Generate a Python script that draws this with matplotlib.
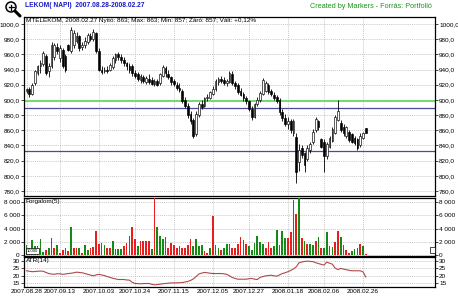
import matplotlib
matplotlib.use("Agg")
import matplotlib.pyplot as plt
import numpy as np
import pandas as pd
from matplotlib.patches import Circle, Rectangle
from matplotlib.ticker import FuncFormatter

# trading days (BSE), 2007.08.28 - 2008.02.27
holidays = ["2007-10-22", "2007-10-23", "2007-11-01", "2007-11-02", "2007-12-24",
            "2007-12-25", "2007-12-26", "2007-12-31", "2008-01-01"]
days = pd.bdate_range("2007-08-28", "2008-02-27", freq="C", holidays=holidays)
tick_dates = ["2007.08.28", "2007.09.13", "2007.10.03", "2007.10.24", "2007.11.15",
              "2007.12.05", "2007.12.27", "2008.01.18", "2008.02.06", "2008.02.26"]

opens = [912, 914, 908, 922, 936, 944, 947, 958, 938, 944, 956, 970, 955, 966, 958, 972, 964, 972, 978, 984,
         970, 972, 976, 984, 980, 988, 965, 940, 938, 940, 940, 943, 952, 960, 956, 952, 948, 944, 944, 936,
         934, 926, 930, 923, 928, 926, 921, 925, 922, 932, 942, 934, 930, 925, 920, 916, 912, 900, 892, 882,
         874, 855, 880, 894, 892, 902, 903, 908, 914, 924, 928, 926, 922, 924, 934, 922, 920, 912, 908, 902,
         898, 888, 878, 894, 900, 908, 912, 920, 912, 907, 904, 900, 884, 876, 868, 872, 856, 851, 818, 836,
         830, 822, 834, 844, 860, 872, 848, 845, 826, 838, 846, 857, 874, 870, 864, 852, 858, 855, 850, 848,
         840, 850, 863]
highs = [916, 917, 922, 940, 946, 952, 965, 960, 948, 976, 975, 975, 972, 968, 960, 974, 996, 992, 990, 986,
         976, 983, 988, 988, 993, 990, 968, 944, 943, 944, 949, 958, 962, 963, 960, 956, 950, 949, 947, 940,
         937, 934, 933, 931, 934, 930, 928, 927, 936, 946, 945, 940, 932, 928, 924, 922, 914, 904, 896, 886,
         876, 885, 897, 900, 904, 908, 912, 918, 927, 930, 931, 930, 928, 938, 938, 925, 922, 916, 911, 905,
         900, 892, 896, 904, 912, 929, 925, 922, 915, 910, 907, 902, 888, 882, 878, 875, 875, 856, 842, 840,
         832, 840, 845, 862, 878, 874, 850, 848, 844, 852, 864, 880, 900, 874, 868, 866, 860, 857, 852, 850,
         856, 858, 863]
lows = [909, 904, 906, 920, 933, 936, 945, 933, 930, 942, 952, 960, 950, 942, 937, 964, 962, 968, 975, 964,
        966, 968, 974, 978, 978, 962, 938, 934, 935, 936, 938, 941, 949, 953, 948, 944, 940, 936, 932, 929,
        925, 922, 922, 921, 921, 919, 918, 918, 920, 930, 930, 927, 920, 918, 913, 910, 896, 889, 876, 868,
        850, 852, 878, 888, 890, 899, 901, 906, 912, 920, 922, 920, 918, 922, 920, 915, 908, 905, 899, 895,
        886, 874, 876, 892, 897, 906, 910, 908, 905, 900, 896, 880, 872, 865, 862, 856, 853, 791, 806, 824,
        805, 820, 830, 842, 858, 860, 836, 805, 822, 836, 844, 855, 872, 858, 852, 850, 845, 843, 840, 834,
        838, 848, 857]
closes = [914, 908, 920, 938, 944, 948, 962, 936, 944, 972, 972, 964, 968, 945, 940, 966, 992, 988, 984, 968,
          972, 978, 986, 980, 990, 965, 940, 937, 940, 938, 946, 955, 960, 956, 952, 948, 944, 940, 935, 932,
          928, 931, 925, 929, 924, 921, 925, 920, 934, 943, 935, 930, 924, 921, 916, 913, 898, 892, 880, 872,
          853, 882, 894, 891, 902, 904, 910, 915, 925, 928, 925, 922, 925, 935, 922, 918, 911, 907, 902, 898,
          888, 877, 894, 900, 909, 926, 922, 911, 908, 903, 899, 884, 876, 868, 872, 860, 872, 805, 834, 828,
          814, 836, 842, 858, 875, 864, 838, 826, 842, 850, 862, 877, 886, 861, 856, 864, 847, 845, 843, 837,
          852, 856, 857]

volume = [1550, 1100, 2270, 1400, 1300, 2400, 500, 800, 1000, 2600, 1000, 1550, 250, 800, 1100, 600, 4200, 1000,
          1000, 1000, 350, 1500, 700, 1000, 1200, 3650, 1650, 1800, 1500, 1000, 1000, 2150, 900, 900, 900, 1400,
          1750, 2850, 4200, 2400, 1350, 2050, 2050, 2050, 2050, 900, 8800, 4200, 2850, 2400, 2700, 1000, 1750,
          1450, 1000, 1400, 1100, 1000, 1500, 2400, 1400, 2400, 1300, 1550, 550, 350, 1000, 5900, 1550, 1000,
          700, 1000, 1700, 1600, 1000, 1000, 1650, 2700, 2300, 1600, 1400, 700, 1800, 2900, 2000, 1700, 1000,
          2000, 1000, 1300, 3800, 1500, 3700, 2500, 2500, 3500, 8300, 6200, 8800, 2600, 2100, 1600, 1600, 1500,
          2100, 2700, 1000, 1100, 3500, 1300, 1200, 2000, 3700, 2700, 1500, 700, 300, 600, 900, 1100, 1700,
          1300, 200]
vol_up = [1, 0, 1, 1, 1, 1, 1, 0, 1, 1, 0, 1, 0, 0, 1, 0, 1, 0, 0, 1, 0, 1, 1, 0, 0, 0, 0, 0, 1, 0,
          0, 1, 1, 1, 1, 0, 0, 1, 0, 0, 1, 0, 0, 0, 0, 1, 0, 1, 1, 1, 0, 0, 0, 0, 0, 0, 0, 0, 0, 0,
          1, 1, 1, 1, 0, 0, 1, 0, 1, 1, 0, 1, 1, 1, 0, 0, 0, 0, 0, 0, 1, 1, 1, 1, 1, 1, 0, 0, 0, 1,
          1, 0, 1, 1, 0, 0, 1, 0, 1, 0, 1, 0, 1, 1, 0, 1, 0, 1, 1, 1, 1, 0, 0, 1, 0, 0, 0, 1, 1, 1, 0]

atr = [23.3, 23.0, 22.7, 22.8, 23.0, 23.1, 23.0, 22.2, 21.5, 21.2, 21.0, 21.4, 21.3, 21.0, 21.2, 21.5, 21.7,
       22.0, 22.4, 22.2, 22.0, 21.5, 21.0, 20.5, 20.0, 20.6, 21.0, 20.6, 20.2, 19.5, 19.0, 18.4, 18.0, 17.6,
       17.6, 17.6, 17.3, 17.2, 15.8, 15.0, 14.9, 14.8, 14.9, 15.0, 15.0, 14.5, 14.1, 14.3, 14.5, 14.8, 15.0,
       15.2, 15.4, 15.4, 15.4, 15.5, 15.6, 16.0, 16.3, 17.0, 18.0, 19.5, 21.2, 21.8, 22.2, 22.0, 21.7, 21.5,
       21.5, 21.5, 21.5, 21.3, 21.0, 20.0, 18.9, 18.3, 17.8, 17.8, 17.8, 17.8, 18.1, 18.3, 17.8, 17.6, 19.0,
       19.5, 20.0, 20.2, 20.4, 20.0, 19.8, 20.6, 21.5, 22.0, 22.7, 23.5, 24.5, 25.9, 28.5, 29.0, 29.4, 29.6,
       29.4, 29.3, 28.6, 28.0, 27.5, 27.0, 29.0, 28.2, 27.6, 25.0, 24.1, 24.8, 24.4, 24.0, 23.6, 23.3, 23.3,
       23.3, 23.3, 22.6, 19.3]

support_levels = [898, 889, 833]

plt.rcParams["font.family"] = ["Liberation Sans", "DejaVu Sans"]

n = len(closes)
x = np.arange(n)
o = np.array(opens)
c = np.array(closes)
up = c >= o

tick_pos = []
for d in tick_dates:
    ts = pd.Timestamp(d.replace(".", "-"))
    tick_pos.append(days.get_loc(ts) if ts in days else 0)

fig = plt.figure(figsize=(4.58, 3.03), dpi=100)
L, W = 24 / 458, (435 - 24) / 458
ax = fig.add_axes([L, 1 - 196 / 303, W, (196 - 16.7) / 303])
axv = fig.add_axes([L, 1 - 255.5 / 303, W, (255.5 - 198.3) / 303], sharex=ax)
axa = fig.add_axes([L, 1 - 286.7 / 303, W, (286.7 - 257.3) / 303], sharex=ax)

grid_kw = dict(color="#b4b4b4", linestyle=(0, (1.5, 1.5)), linewidth=0.5)
for a in (ax, axv, axa):
    a.set_xticks(tick_pos)
    a.grid(True, **grid_kw)
    a.set_axisbelow(True)
    a.tick_params(axis="y", direction="out", length=2, width=0.5, labelsize=4.6, pad=1,
                  left=True, right=True, labelleft=True, labelright=True)
    a.tick_params(axis="x", length=0, labelbottom=False)
    for s in a.spines.values():
        s.set_linewidth(0.9)
ax.set_xlim(-0.9, 146.9)

# price candles
ax.vlines(x, lows, highs, color="black", linewidth=0.6, zorder=3)
bot = np.minimum(o, c)
hgt = np.maximum(np.abs(c - o), 0.8)
ax.bar(x, hgt, bottom=bot, width=0.62, color=np.where(up, "white", "black"),
       edgecolor="black", linewidth=0.45, zorder=4)
ax.axhline(support_levels[0], color="#6fdc6f", linewidth=1.4, zorder=2)
ax.axhline(support_levels[1], color="#4b4b9c", linewidth=0.9, zorder=2)
ax.axhline(support_levels[2], color="#4b4b9c", linewidth=0.9, zorder=2)
ax.set_ylim(773.4, 1009.6)
ax.set_yticks(np.arange(780, 1001, 20))
ax.yaxis.set_major_formatter(FuncFormatter(lambda v, p: f"{v:.1f}".replace(".", ",")))

prev = closes[-2]
chg = (closes[-1] / prev - 1) * 100
info = (f"MTELEKOM, 2008.02.27 Nyitó: {opens[-1]}; Max: {highs[-1]}; Min: {lows[-1]}; "
        f"Záró: {closes[-1]}; Vált: {chg:+.2f}%").replace(".", ",").replace("2008,02,27", "2008.02.27")
ax.text(0.004, 0.995, info, transform=ax.transAxes, ha="left", va="top", fontsize=4.6, zorder=6)

# volume
vcol = ["#138a13" if u else "#e81e1e" for u in vol_up]
axv.bar(x, volume, width=0.62, color=vcol, zorder=3)
axv.set_ylim(-80, 8600)
axv.set_yticks([0, 2000, 4000, 6000, 8000])
axv.yaxis.set_major_formatter(FuncFormatter(lambda v, p: f"{int(v):,}".replace(",", " ")))
axv.text(0.004, 0.985, "Forgalom(5)", transform=axv.transAxes, ha="left", va="top", fontsize=4.6, zorder=6)
axv.text(0.006, 0.04, "10000", transform=axv.transAxes, ha="left", va="bottom", fontsize=3, zorder=6,
         bbox=dict(facecolor="white", edgecolor="black", linewidth=0.5, pad=0.6))

# ATR
axa.plot(x, atr, color="#b04848", linewidth=0.8, zorder=3)
axa.set_ylim(12.9, 32.1)
axa.set_yticks([15, 20, 25, 30])
axa.text(0.004, 0.97, "ATR(14)", transform=axa.transAxes, ha="left", va="top", fontsize=4.6, zorder=6)
axa.tick_params(axis="x", labelbottom=True, labelsize=4.6, pad=2)
axa.set_xticklabels(tick_dates)

# header
fig.text(25 / 458, 1 - 5.5 / 303, "LEKOM( NAPI)  2007.08.28-2008.02.27", color="#1717c4",
         fontweight="bold", fontsize=4.8, ha="left", va="center")
fig.text(432 / 458, 1 - 6 / 303, "Created by Markers - Forrás: Portfolió", color="#1d951d",
         fontsize=5.2, ha="right", va="center")

# magnifier icon and small scroll box
ov = fig.add_axes([0, 0, 1, 1], zorder=10)
ov.set_xlim(0, 458)
ov.set_ylim(303, 0)
ov.axis("off")
ov.plot([15, 20], [11, 16], color="black", linewidth=2.2, solid_capstyle="round")
ov.add_patch(Circle((11, 7), 5, facecolor="#f4f4f4", edgecolor="black", linewidth=1.1))
ov.plot([8.5, 13.5], [7, 7], color="black", linewidth=0.9)
ov.plot([11, 11], [4.5, 9.5], color="black", linewidth=0.9)
ov.add_patch(Rectangle((430, 246.5), 5, 6, facecolor="white", edgecolor="black", linewidth=0.5))

fig.savefig("out.png", dpi=100, facecolor="white")
